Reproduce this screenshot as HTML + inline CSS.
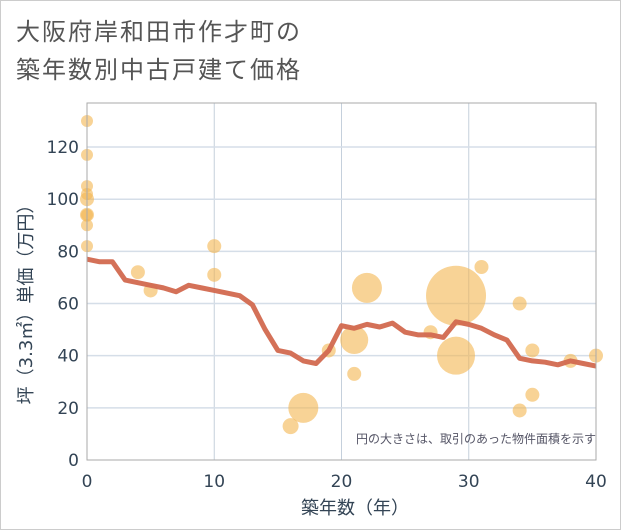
<!DOCTYPE html>
<html><head><meta charset="utf-8"><style>
body{margin:0;background:#fff;}
#wrap{position:relative;width:621px;height:530px;overflow:hidden;font-family:"DejaVu Sans","Noto Sans CJK JP",sans-serif;}
</style></head><body>
<div id="wrap">
<svg id="chart" width="621" height="530" xmlns="http://www.w3.org/2000/svg">
<rect x="0.5" y="0.5" width="620" height="529" fill="#fff" stroke="#ccc"/>
<text x="16" y="40" font-size="24" letter-spacing="2" fill="#555" font-family="Liberation Sans, Noto Sans CJK JP, sans-serif">大阪府岸和田市作才町の</text>
<text x="16" y="78" font-size="24" letter-spacing="2" fill="#555" font-family="Liberation Sans, Noto Sans CJK JP, sans-serif">築年数別中古戸建て価格</text>
<g id="grid"></g><g id="bubbles"></g><g id="line"></g><g id="axes"></g>
<text x="596" y="443" font-size="12" fill="#556" text-anchor="end" font-family="Liberation Sans, Noto Sans CJK JP, sans-serif">円の大きさは、取引のあった物件面積を示す</text>
<text x="355" y="514" font-size="18" fill="#345" text-anchor="middle" font-family="DejaVu Sans, Noto Sans CJK JP, sans-serif">築年数（年）</text>
<text transform="translate(32,300) rotate(-90)" font-size="18" fill="#345" text-anchor="middle" font-family="DejaVu Sans, Noto Sans CJK JP, sans-serif">坪（3.3㎡）単価（万円）</text>
</svg></div>
<script>
const xTicks=[0,10,20,30,40];
const yTicks=[0,20,40,60,80,100,120];
const lineYears=[0,1,2,3,4,5,6,7,8,9,10,11,12,13,14,15,16,17,18,19,20,21,22,23,24,25,26,27,28,29,30,31,32,33,34,35,36,37,38,39,40];
const lineValues=[77,76,76,69,68,67,66,64.5,67,66,65,64,63,59.5,50,42,41,38,37,42,51.5,50.5,52,51,52.5,49,48,48,47,53,52,50.5,48,46,39,38,37.5,36.5,38,37,36];
const bubbleYears=[0,0,0,0,0,0,0,0,0,4,5,10,10,16,17,19,21,21,22,27,29,29,31,34,34,35,35,38,40];
const bubbleValues=[130,117,105,102,100,94,94,90,82,72,65,82,71,13,20,42,46,33,66,49,63,40,74,60,19,42,25,38,40];
const bubbleAreas=[36,36,36,36,49,49,36,36,36,49,49,49,49,64,225,49,196,49,225,49,900,361,49,49,49,49,49,49,49];
const X0=87,X1=596,Y0=460,YT=103;
const sx=v=>X0+(X1-X0)*v/40;
const sy=v=>Y0-v*2.608;
const NS='http://www.w3.org/2000/svg';
function mk(tag,attrs,parent){const e=document.createElementNS(NS,tag);for(const k in attrs)e.setAttribute(k,attrs[k]);document.getElementById(parent).appendChild(e);return e;}
xTicks.forEach(t=>{if(t>0){const l=mk('line',{x1:sx(t),x2:sx(t),y1:YT,y2:Y0,stroke:'#c5d0dc','stroke-width':1},'grid');

}
const tx=mk('text',{x:sx(t),y:487,'font-size':17,fill:'#345','text-anchor':'middle'},'axes');tx.textContent=t;

});
yTicks.forEach(t=>{if(t>0){const l=mk('line',{x1:X0,x2:X1,y1:sy(t),y2:sy(t),stroke:'#d5dee8','stroke-width':1.5},'grid');

}
const tx=mk('text',{x:79,y:sy(t)+6,'font-size':17,fill:'#345','text-anchor':'end'},'axes');tx.textContent=t;

});
const fr=mk('rect',{x:X0,y:YT,width:X1-X0,height:Y0-YT,fill:'none',stroke:'#aaa','stroke-width':1},'axes');


bubbleYears.forEach((yr,i)=>{const c=mk('circle',{cx:sx(yr),cy:sy(bubbleValues[i]),r:Math.sqrt(bubbleAreas[i]),fill:'#f3b550','fill-opacity':0.6},'bubbles');

});
const pts=lineYears.map((yr,i)=>sx(yr)+','+sy(lineValues[i])).join(' ');
const pl=mk('polyline',{points:pts,fill:'none',stroke:'#d2694f','stroke-width':5,'stroke-linejoin':'round','stroke-opacity':0.95},'line');


</script>
</body></html>
